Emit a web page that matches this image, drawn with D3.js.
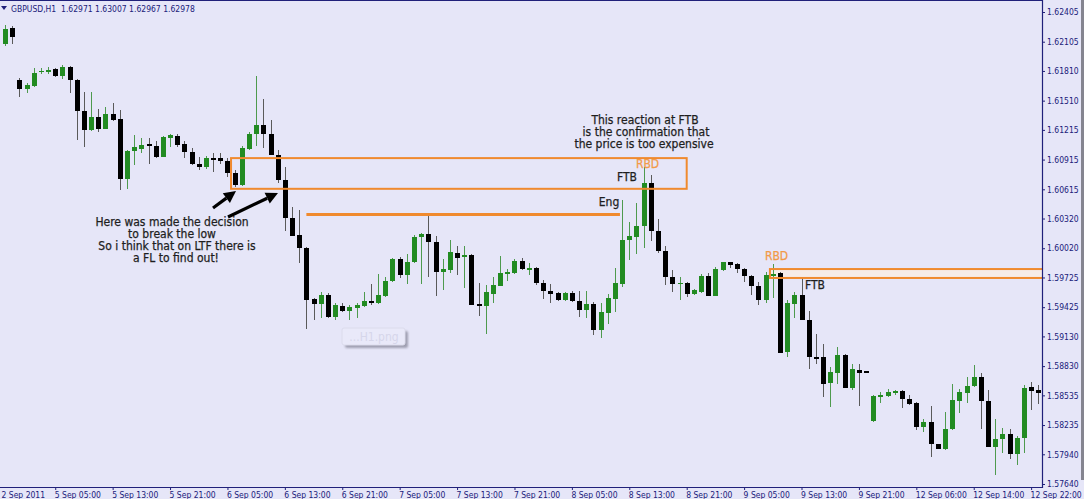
<!DOCTYPE html>
<html><head><meta charset="utf-8">
<script src="https://cdn.jsdelivr.net/npm/d3@7"></script>
<style>
html,body{margin:0;padding:0;background:#e6e6f8;overflow:hidden}
svg{display:block}
</style></head><body>
<svg id="c" width="1084" height="499"></svg>
<script>
// ---- data (GBPUSD H1, bars from 2 Sep 2011 21:00) ----
const opens  = [1.6208,1.6224,1.6172,1.6163,1.6166,1.6180,1.6180,1.6183,1.6176,1.6185,
1.6172,1.6141,1.6121,1.6135,1.6122,1.6138,1.6132,1.6072,1.6100,1.6102,
1.6107,1.6105,1.6094,1.6113,1.6115,1.6107,1.6099,1.6087,1.6084,1.6093,
1.6093,1.6090,1.6078,1.6066,1.6102,1.6117,1.6126,1.6117,1.6096,1.6071,
1.6033,1.6015,1.6002,1.5951,1.5946,1.5955,1.5933,1.5944,1.5939,1.5942,
1.5944,1.5949,1.5947,1.5954,1.5969,1.5991,1.5975,1.5988,1.6013,1.6016,
1.6008,1.5978,1.5980,1.5997,1.5993,1.5995,1.5946,1.5944,1.5956,1.5964,
1.5977,1.5977,1.5989,1.5981,1.5982,1.5967,1.5959,1.5957,1.5950,1.5957,
1.5949,1.5940,1.5946,1.5919,1.5937,1.5951,1.5966,1.6010,1.6013,1.6024,
1.6068,1.6019,1.5999,1.5973,1.5966,1.5967,1.5956,1.5958,1.5974,1.5954,
1.5980,1.5988,1.5986,1.5981,1.5974,1.5964,1.5950,1.5974,1.5977,1.5897,
1.5946,1.5955,1.5930,1.5892,1.5892,1.5866,1.5876,1.5894,1.5861,1.5879,
1.5878,1.5828,1.5852,1.5853,1.5856,1.5858,1.5850,1.5846,1.5822,1.5827,
1.5804,1.5799,1.5820,1.5848,1.5856,1.5863,1.5872,1.5848,1.5801,1.5809,
1.5814,1.5794,1.5810,1.5862,1.5859];
const highs  = [1.6227,1.6226,1.6174,1.6169,1.6184,1.6184,1.6185,1.6184,1.6187,1.6186,
1.6173,1.6160,1.6160,1.6143,1.6145,1.6149,1.6142,1.6101,1.6116,1.6113,
1.6113,1.6110,1.6115,1.6117,1.6117,1.6110,1.6103,1.6094,1.6095,1.6098,
1.6098,1.6093,1.6081,1.6105,1.6119,1.6176,1.6153,1.6131,1.6101,1.6084,
1.6044,1.6041,1.6003,1.5952,1.5958,1.5957,1.5947,1.5947,1.5945,1.5947,
1.5958,1.5966,1.5976,1.5973,1.5992,1.5993,1.5996,1.6015,1.6017,1.6036,
1.6014,1.5991,1.6010,1.6004,1.6004,1.5996,1.5967,1.5965,1.5973,1.5994,
1.5981,1.5991,1.5992,1.5987,1.5983,1.5970,1.5966,1.5958,1.5958,1.5959,
1.5959,1.5959,1.5948,1.5947,1.5956,1.5982,1.6051,1.6029,1.6048,1.6084,
1.6076,1.6032,1.6004,1.5980,1.5973,1.5968,1.5961,1.5976,1.5977,1.5983,
1.5988,1.5988,1.5987,1.5982,1.5975,1.5968,1.5978,1.5986,1.5978,1.5950,
1.5958,1.5973,1.5939,1.5915,1.5905,1.5882,1.5902,1.5895,1.5885,1.5885,
1.5878,1.5854,1.5857,1.5860,1.5859,1.5859,1.5854,1.5847,1.5830,1.5843,
1.5804,1.5837,1.5865,1.5860,1.5872,1.5884,1.5876,1.5859,1.5830,1.5821,
1.5820,1.5812,1.5864,1.5867,1.5864];
const lows   = [1.6206,1.6208,1.6155,1.6159,1.6165,1.6178,1.6178,1.6175,1.6173,1.6159,
1.6111,1.6104,1.6120,1.6119,1.6122,1.6130,1.6061,1.6062,1.6086,1.6098,
1.6087,1.6093,1.6094,1.6104,1.6104,1.6093,1.6086,1.6081,1.6082,1.6079,
1.6087,1.6074,1.6064,1.6065,1.6101,1.6105,1.6103,1.6096,1.6068,1.6019,
1.6014,1.5987,1.5920,1.5930,1.5932,1.5932,1.5930,1.5938,1.5930,1.5932,
1.5943,1.5945,1.5946,1.5953,1.5968,1.5972,1.5966,1.5987,1.5966,1.5973,
1.5954,1.5960,1.5977,1.5975,1.5962,1.5945,1.5934,1.5915,1.5947,1.5964,
1.5969,1.5976,1.5980,1.5975,1.5965,1.5951,1.5947,1.5949,1.5949,1.5948,
1.5933,1.5932,1.5914,1.5911,1.5926,1.5938,1.5963,1.5990,1.5996,1.6002,
1.6009,1.5997,1.5965,1.5958,1.5950,1.5953,1.5955,1.5957,1.5954,1.5954,
1.5979,1.5982,1.5977,1.5968,1.5955,1.5945,1.5947,1.5952,1.5896,1.5892,
1.5932,1.5930,1.5880,1.5885,1.5852,1.5842,1.5865,1.5861,1.5859,1.5843,
1.5876,1.5827,1.5846,1.5852,1.5854,1.5841,1.5844,1.5819,1.5817,1.5791,
1.5799,1.5798,1.5819,1.5836,1.5846,1.5862,1.5820,1.5801,1.5773,1.5795,
1.5789,1.5783,1.5795,1.5839,1.5845];
const closes = [1.6223,1.6215,1.6163,1.6167,1.6179,1.6181,1.6182,1.6176,1.6185,1.6172,
1.6141,1.6121,1.6135,1.6122,1.6138,1.6131,1.6072,1.6100,1.6104,1.6106,
1.6105,1.6094,1.6114,1.6116,1.6106,1.6099,1.6087,1.6084,1.6093,1.6091,
1.6090,1.6078,1.6066,1.6103,1.6117,1.6126,1.6117,1.6096,1.6071,1.6033,
1.6014,1.6002,1.5950,1.5946,1.5955,1.5933,1.5945,1.5939,1.5943,1.5945,
1.5949,1.5947,1.5955,1.5969,1.5991,1.5975,1.5988,1.6013,1.6016,1.6008,
1.5978,1.5981,1.5998,1.5992,1.5995,1.5945,1.5944,1.5958,1.5965,1.5977,
1.5978,1.5989,1.5981,1.5982,1.5967,1.5959,1.5956,1.5950,1.5957,1.5949,
1.5940,1.5946,1.5919,1.5938,1.5952,1.5967,1.6010,1.6014,1.6024,1.6068,
1.6019,1.5999,1.5973,1.5966,1.5967,1.5956,1.5960,1.5974,1.5954,1.5981,
1.5988,1.5985,1.5981,1.5974,1.5964,1.5950,1.5975,1.5976,1.5896,1.5947,
1.5955,1.5930,1.5892,1.5891,1.5865,1.5877,1.5894,1.5861,1.5880,1.5876,
1.5876,1.5853,1.5854,1.5857,1.5858,1.5850,1.5845,1.5822,1.5827,1.5804,
1.5799,1.5820,1.5849,1.5857,1.5863,1.5872,1.5848,1.5801,1.5809,1.5814,
1.5794,1.5810,1.5861,1.5858,1.5856];

const priceTicks = [1.62405,1.62105,1.61810,1.61510,1.61215,1.60915,1.60615,1.60320,1.60020,
1.59725,1.59425,1.59130,1.58830,1.58535,1.58235,1.57940,1.57640];
const timeTickBars = [-1,7,15,23,31,39,47,55,63,71,79,87,95,103,111,119,127,135,143];
const timeTickLabels = ["2 Sep 2011","5 Sep 05:00","5 Sep 13:00","5 Sep 21:00","6 Sep 05:00",
"6 Sep 13:00","6 Sep 21:00","7 Sep 05:00","7 Sep 13:00","7 Sep 21:00","8 Sep 05:00",
"8 Sep 13:00","8 Sep 21:00","9 Sep 05:00","9 Sep 13:00","9 Sep 21:00","12 Sep 06:00",
"12 Sep 14:00","12 Sep 22:00"];
const headerText = "GBPUSD,H1  1.62971 1.63007 1.62967 1.62978";

// annotation anchors (bar index / price)
const zoneStart = [31.5, 106.6];
const zoneEnd   = [95.0, 144.8];
const zoneTop   = [1.6093, 1.5981];
const zoneBot   = [1.6062, 1.5972];
const levelStart = 42.0, levelEnd = 85.7, levelPrice = 1.6036;

// ---- drawing ----
const W = 1084, H = 499;
const bg = "#e6e6f8", navy = "#20207a", orange = "#f08a2e", orangeText = "#f29a48";
const bullBody = "#228b22", bullWick = "#4e9a4e", bearBody = "#000000", bearWick = "#5a5a5a";
const axisFont = "'DejaVu Sans Condensed','DejaVu Sans',sans-serif";
const noteFont = "'DejaVu Sans Condensed','DejaVu Sans',sans-serif";

const svg = d3.select("#c");
svg.append("rect").attr("width", W).attr("height", H).attr("fill", bg);

const plotR = 1042, plotB = 487;
const x = d3.scaleLinear().domain([0, 144]).range([5, 1038.3]);
const y = d3.scaleLinear().domain([1.57640, 1.62405]).range([484, 12]);

svg.append("defs").append("clipPath").attr("id", "clip")
  .append("rect").attr("x", 0).attr("y", 0).attr("width", plotR).attr("height", plotB);

const plot = svg.append("g").attr("clip-path", "url(#clip)");

// zone 2 fill under candles
plot.append("rect")
  .attr("x", x(zoneStart[1])).attr("y", y(zoneTop[1]))
  .attr("width", x(zoneEnd[1]) - x(zoneStart[1])).attr("height", y(zoneBot[1]) - y(zoneTop[1]))
  .attr("fill", "#f6ece8");

const bars = d3.range(opens.length).map(i => ({i, o: opens[i], h: highs[i], l: lows[i], c: closes[i]}));
const cg = plot.append("g").attr("shape-rendering", "crispEdges");
cg.selectAll("line").data(bars).join("line")
  .attr("x1", d => Math.round(x(d.i)) + 0.5).attr("x2", d => Math.round(x(d.i)) + 0.5)
  .attr("y1", d => y(d.h)).attr("y2", d => y(d.l))
  .attr("stroke", d => d.c >= d.o ? bullWick : bearWick).attr("stroke-width", 1);
cg.selectAll("rect").data(bars).join("rect")
  .attr("x", d => Math.round(x(d.i)) - 2).attr("width", 5)
  .attr("y", d => Math.min(y(d.o), y(d.c)))
  .attr("height", d => Math.max(1.5, Math.abs(y(d.o) - y(d.c))))
  .attr("fill", d => d.c >= d.o ? bullBody : bearBody);

// zones
zoneStart.forEach((s, k) => {
  plot.append("rect")
    .attr("x", x(s)).attr("y", y(zoneTop[k]))
    .attr("width", x(zoneEnd[k]) - x(s)).attr("height", y(zoneBot[k]) - y(zoneTop[k]))
    .attr("fill", "none").attr("stroke", orange).attr("stroke-width", 2);
});
// level line
plot.append("line")
  .attr("x1", x(levelStart)).attr("x2", x(levelEnd))
  .attr("y1", y(levelPrice)).attr("y2", y(levelPrice))
  .attr("stroke", orange).attr("stroke-width", 3);

// notes
const notes = [
  {t: "This reaction at FTB", x: 645, y: 124, c: "#1e1e1e"},
  {t: "is the confirmation that", x: 646, y: 136, c: "#1e1e1e"},
  {t: "the price is too expensive", x: 644, y: 148, c: "#1e1e1e"},
  {t: "RBD", x: 647.5, y: 168, c: orangeText},
  {t: "FTB", x: 627, y: 181, c: "#1e1e1e"},
  {t: "Eng", x: 609, y: 206, c: "#1e1e1e"},
  {t: "RBD", x: 776.5, y: 260, c: orangeText},
  {t: "FTB", x: 815, y: 289, c: "#1e1e1e"},
  {t: "Here was made the decision", x: 172, y: 226, c: "#1e1e1e"},
  {t: "to break the low", x: 172, y: 238, c: "#1e1e1e"},
  {t: "So i think that on LTF there is", x: 177, y: 250, c: "#1e1e1e"},
  {t: "a FL to find out!", x: 176, y: 262, c: "#1e1e1e"}
];
plot.selectAll("text.note").data(notes).join("text").attr("class", "note")
  .attr("x", d => d.x).attr("y", d => d.y).attr("text-anchor", "middle")
  .attr("font-family", noteFont).attr("font-size", 12).attr("fill", d => d.c)
  .attr("stroke", d => d.c).attr("stroke-width", 0.25).text(d => d.t);

// arrows
const arrows = [[[213, 208], [236, 191]], [[228, 217], [278, 193]]];
arrows.forEach(([a, b]) => {
  const ang = Math.atan2(b[1] - a[1], b[0] - a[0]);
  const L = 12, Wd = 6;
  const bx = b[0] - L * Math.cos(ang), by = b[1] - L * Math.sin(ang);
  plot.append("line").attr("x1", a[0]).attr("y1", a[1]).attr("x2", bx).attr("y2", by)
    .attr("stroke", "#000").attr("stroke-width", 3.2);
  const p1 = [bx + Wd * Math.sin(ang), by - Wd * Math.cos(ang)];
  const p2 = [bx - Wd * Math.sin(ang), by + Wd * Math.cos(ang)];
  plot.append("path").attr("d", `M${b[0]},${b[1]}L${p1[0]},${p1[1]}L${p2[0]},${p2[1]}Z`).attr("fill", "#000");
});

// ghost label
const gdef = svg.select("defs").append("filter").attr("id", "blur").attr("x", "-20%").attr("y", "-20%").attr("width", "140%").attr("height", "160%");
gdef.append("feGaussianBlur").attr("stdDeviation", 1.2);
plot.append("rect").attr("x", 345).attr("y", 331).attr("width", 63).attr("height", 17).attr("rx", 2)
  .attr("fill", "#8e8ea0").attr("filter", "url(#blur)").attr("opacity", 0.8);
plot.append("rect").attr("x", 342).attr("y", 328).attr("width", 63).attr("height", 17).attr("rx", 2)
  .attr("fill", "#e9e9f9").attr("stroke", "#dcdcec");
plot.append("text").attr("x", 374).attr("y", 341).attr("text-anchor", "middle")
  .attr("font-family", noteFont).attr("font-size", 12).attr("fill", "#d6d6ea").text("...H1.png");

// price axis
const ya = svg.append("g").attr("transform", `translate(${plotR},0)`)
  .call(d3.axisRight(y).tickValues(priceTicks).tickFormat(d3.format(".5f")).tickSize(3).tickPadding(2));
ya.select(".domain").remove();
ya.selectAll("line").attr("stroke", navy);
ya.selectAll("text").attr("font-family", axisFont).attr("font-size", 8.5).attr("fill", navy);

// time axis
const xa = svg.append("g").attr("transform", `translate(0,${plotB})`)
  .call(d3.axisBottom(x).tickValues(timeTickBars).tickFormat((d, i) => timeTickLabels[i]).tickSize(3));
xa.select(".domain").remove();
xa.selectAll("line").attr("stroke", navy);
xa.selectAll("text").attr("text-anchor", "start")
  .attr("x", (d, i) => i === 0 ? 1 - x(d) : -1).attr("dy", 0).attr("y", 11)
  .attr("font-family", axisFont).attr("font-size", 8.5).attr("fill", navy);

// frame
svg.append("line").attr("x1", plotR + 0.5).attr("x2", plotR + 0.5).attr("y1", 0).attr("y2", plotB + 1)
  .attr("stroke", navy).attr("stroke-width", 1.2);
svg.append("line").attr("x1", 0).attr("x2", plotR + 1).attr("y1", plotB + 0.5).attr("y2", plotB + 0.5)
  .attr("stroke", navy).attr("stroke-width", 1.2);
svg.append("line").attr("x1", 0).attr("x2", plotR + 1).attr("y1", 0.5).attr("y2", 0.5)
  .attr("stroke", navy).attr("stroke-width", 1.2);
svg.append("rect").attr("x", 1081).attr("y", 0).attr("width", 3).attr("height", 480).attr("fill", "#858590");

// header
svg.append("path").attr("d", "M1,6L7,6L4,10Z").attr("fill", navy);
svg.append("text").attr("x", 11).attr("y", 12).attr("xml:space", "preserve").style("white-space", "pre")
  .attr("font-family", axisFont).attr("font-size", 8.5).attr("fill", navy).text(headerText);
</script>
</body></html>
